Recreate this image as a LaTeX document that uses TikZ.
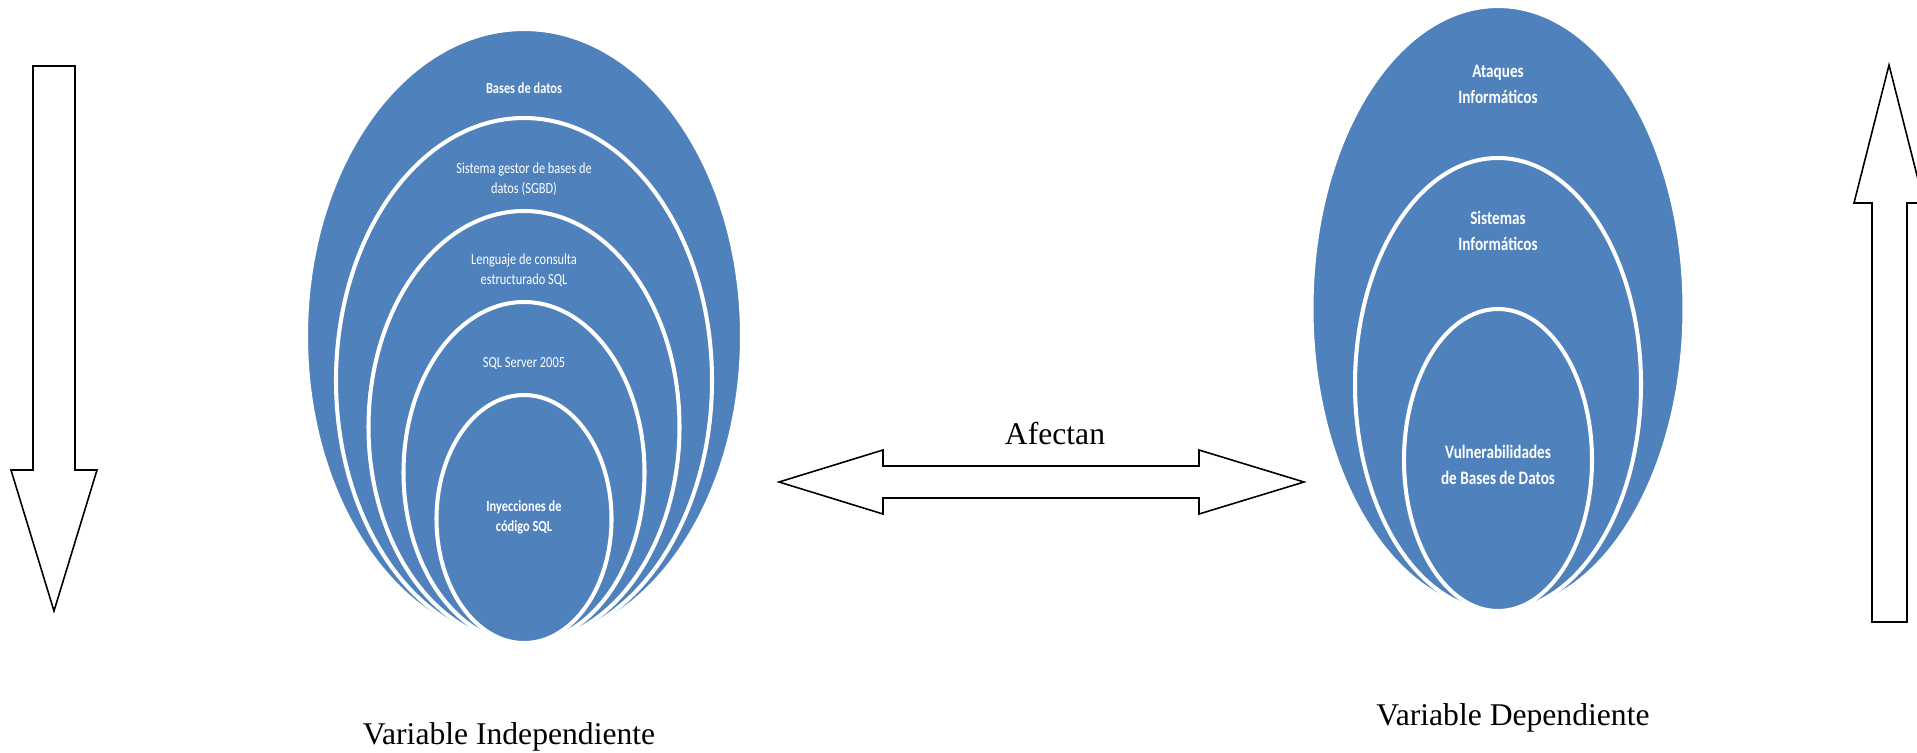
\documentclass[tikz,border=0pt]{standalone}
\usepackage{fontspec}
\setmainfont{Liberation Serif}
\newfontfamily\calib[FakeStretch=0.8]{Carlito}
\definecolor{azul}{HTML}{4F81BD}
\tikzset{anillo/.style={fill=azul,draw=white,line width=2.3pt},
    txtizq/.style={text=white,align=center,inner sep=0pt,font=\calib\fontsize{8.8}{11.4}\selectfont},
    txtder/.style={text=white,align=center,inner sep=0pt,font=\calib\bfseries\fontsize{10.8}{14.8}\selectfont},
    leyenda/.style={inner sep=0pt,font=\fontsize{18}{22}\selectfont},
    bloque/.style={draw=black,fill=white,line width=0.9pt}}
\begin{document}
\begin{tikzpicture}[x=0.02cm,y=-0.02cm, line join=miter]
    \useasboundingbox (0,0) rectangle (1917,752);
    \clip (0,0) rectangle (1917,752);
    \def\xi{524} \def\yi{643} \def\xd{1498} \def\yd{611}
    % variable independiente
    \foreach \rx/\ry in {218/307,188/262.5,155.5/216,120.5/170.5,87.5/124}
        \filldraw[anillo] (\xi,\yi-\ry) ellipse [x radius=\rx, y radius=\ry];
    \node[txtizq,font=\calib\bfseries\fontsize{8.8}{11.4}\selectfont] (bd) at (\xi,88) {Bases de datos};
    \node[txtizq] (sgbd) at (\xi,179) {Sistema gestor de bases de\\datos (SGBD)};
    \node[txtizq] (lsql) at (\xi,270) {Lenguaje de consulta\\estructurado SQL};
    \node[txtizq] (srv) at (\xi,363) {SQL Server 2005};
    \node[txtizq,font=\calib\bfseries\fontsize{8.8}{11.4}\selectfont] (iny) at (\xi,517) {Inyecciones de\\código SQL};
    % variable dependiente
    \foreach \rx/\ry in {186.5/302.5,143/226.5,94/151}
        \filldraw[anillo] (\xd,\yd-\ry) ellipse [x radius=\rx, y radius=\ry];
    \node[txtder] (ataq) at (\xd,84) {Ataques\\Informáticos};
    \node[txtder] (sist) at (\xd,231) {Sistemas\\Informáticos};
    \node[txtder] (vuln) at (\xd,465) {Vulnerabilidades\\de Bases de Datos};
    % flechas
    \draw[bloque] (33,66)--(75,66)--(75,470)--(97,470)--(54,611)--(11,470)--(33,470)--cycle;
    \draw[bloque] (1872,622)--(1872,203)--(1854,203)--(1889,65)--(1924,203)--(1907,203)--(1907,622)--cycle;
    \draw[bloque] (779,482)--(883,450)--(883,466)--(1199,466)--(1199,450)--(1304,482)
        --(1199,514)--(1199,498)--(883,498)--(883,514)--cycle;
    \node[leyenda] (afectan) at (1055,434) {Afectan};
    \node[leyenda] (indep) at (509,737) {Variable Independiente};
    \node[leyenda] (dep) at (1513,718) {Variable Dependiente};
\end{tikzpicture}
\end{document}
